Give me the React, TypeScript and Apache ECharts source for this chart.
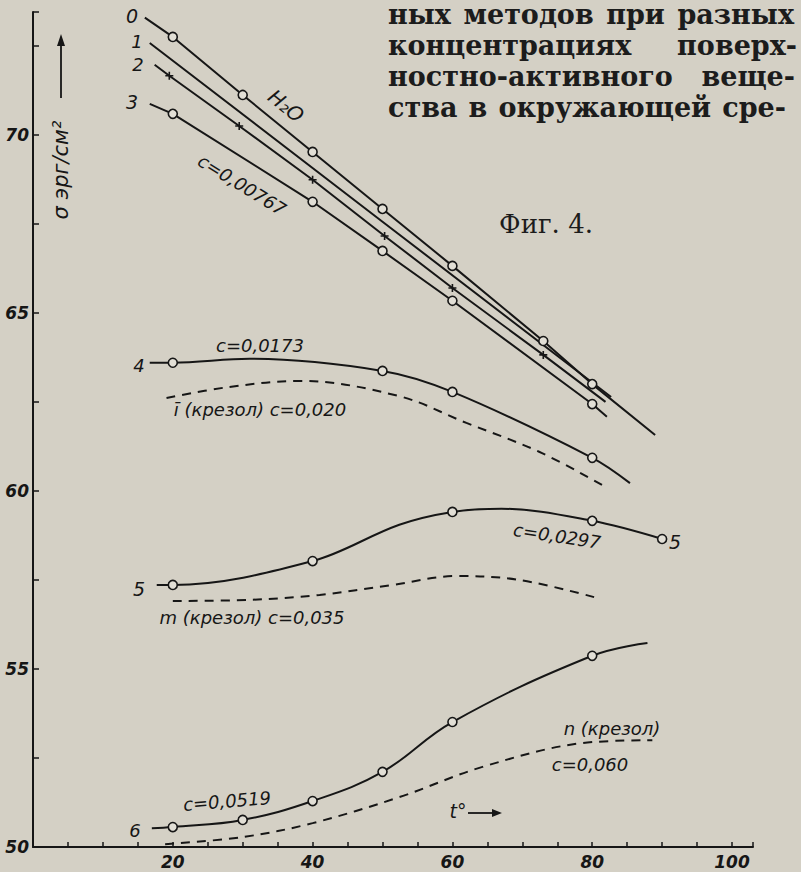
import React, { useEffect, useRef } from 'react';
import * as echarts from 'echarts';

// ---- data (t in °C, sigma in erg/cm^2) ----
const c0T = [16, 20, 30, 40, 50, 60, 73, 80, 89];
const c0S = [73.29, 72.75, 71.12, 69.52, 67.92, 66.32, 64.21, 63.0, 61.57];
const c0M = [0, 1, 1, 1, 1, 1, 1, 1, 0];

const c1T = [16.7, 50, 82.7];
const c1S = [72.58, 67.56, 62.64];
const c1M = [0, 0, 0];

const c2T = [17.4, 19.5, 29.5, 40, 50.3, 60, 73, 81.9];
const c2S = [71.97, 71.66, 70.25, 68.74, 67.16, 65.7, 63.82, 62.5];
const c2M = [0, 1, 1, 1, 1, 1, 1, 0];

const c3T = [16.7, 20, 40, 50, 60, 80, 82.1];
const c3S = [70.87, 70.59, 68.12, 66.74, 65.34, 62.44, 62.08];
const c3M = [0, 1, 1, 1, 1, 1, 0];

const c4T = [16.7, 20, 31, 50, 60, 80, 85.4];
const c4S = [63.6, 63.6, 63.71, 63.37, 62.78, 60.93, 60.22];
const c4M = [0, 1, 0, 1, 1, 1, 0];

const d1T = [19.1, 28.1, 38.1, 52.4, 62, 72.4, 81.4];
const d1S = [62.61, 62.92, 63.09, 62.66, 61.91, 61.1, 60.17];

const c5T = [17.7, 20, 40, 52.4, 60, 67, 80, 90];
const c5S = [57.36, 57.36, 58.03, 59.05, 59.41, 59.5, 59.16, 58.65];
const c5M = [0, 1, 1, 0, 1, 0, 1, 1];

const d2T = [20, 31, 41, 51.4, 60.6, 69.6, 80.6];
const d2S = [56.91, 56.94, 57.08, 57.36, 57.61, 57.5, 57.0];

const c6T = [17, 20, 30, 40, 50, 60, 80, 87.9];
const c6S = [50.53, 50.56, 50.76, 51.29, 52.11, 53.51, 55.37, 55.73];
const c6M = [0, 1, 1, 1, 1, 1, 1, 0];

const d3T = [18.9, 30, 40, 52.4, 64.3, 78.6, 88.6];
const d3S = [50.08, 50.28, 50.67, 51.4, 52.25, 52.92, 53.0];

const yTickLabels = [50, 55, 60, 65, 70];
const xTickLabels = [20, 40, 60, 80, 100];

// running text, justified between x = 388 and the given right edge
const headerLines = [
  { y: 14, right: 794, text: 'ных методов при разных' },
  { y: 45, right: 797, text: 'концентрациях поверх-' },
  { y: 76, right: 795, text: 'ностно-активного веще-' },
  { y: 107, right: 786, text: 'ства в окружающей сре-' },
];
const HEADER_LEFT = 388;
const HEADER_FONT = 'bold 27px "DejaVu Serif"';

const INK = '#161616';
const PAPER = '#d4d0c5';
const MARK_FILL = '#e2dfd6';
const CROSS = 'path://M5,0L5,10M0,5L10,5';

function lineSeries(T: number[], S: number[], M: number[] | null, opts: any) {
  return {
    type: 'line',
    data: T.map((t, i) => ({
      value: [t, S[i]],
      symbol: M && M[i] ? opts.sym || 'circle' : 'none',
    })),
    smooth: opts.smooth ?? false,
    symbolSize: opts.symSize ?? 9,
    showSymbol: true,
    lineStyle: { color: INK, width: opts.width ?? 2, type: opts.dash ? [9, 7] : 'solid' },
    itemStyle: opts.sym === CROSS
      ? { color: 'none', borderColor: INK, borderWidth: 1.6 }
      : { color: MARK_FILL, borderColor: INK, borderWidth: 1.6 },
    z: opts.dash ? 2 : 3,
    silent: true,
  };
}

const ITAL = { fontFamily: 'DejaVu Sans', fontStyle: 'italic', fill: INK };

function txt(text: string, x: number, y: number, size: number, rot = 0, extra: any = {}) {
  return {
    type: 'text',
    x,
    y,
    rotation: rot,
    style: { text, fontSize: size, align: 'center', verticalAlign: 'middle', ...ITAL, ...extra },
    z: 10,
  };
}

function justifiedHeader(): any[] {
  const canvas = document.createElement('canvas');
  const ctx = canvas.getContext('2d');
  const out: any[] = [];
  headerLines.forEach((ln) => {
    const words = ln.text.split(' ');
    let widths = words.map((w) => w.length * 16);
    if (ctx) {
      ctx.font = HEADER_FONT;
      widths = words.map((w) => ctx.measureText(w).width);
    }
    const total = widths.reduce((a, b) => a + b, 0);
    const gap = words.length > 1 ? (ln.right - HEADER_LEFT - total) / (words.length - 1) : 0;
    let x = HEADER_LEFT;
    words.forEach((w, i) => {
      out.push({
        type: 'text',
        x,
        y: ln.y,
        style: {
          text: w,
          fontFamily: 'DejaVu Serif',
          fontSize: 27,
          fontWeight: 'bold',
          fill: '#1c1c1c',
          align: 'left',
          verticalAlign: 'middle',
        },
        z: 10,
      });
      x += widths[i] + gap;
    });
  });
  return out;
}

export default function App() {
  const ref = useRef<HTMLDivElement>(null);
  useEffect(() => {
    if (!ref.current) return;
    const chart = echarts.init(ref.current, null, { renderer: 'svg' });

    const option: any = {
      animation: false,
      backgroundColor: PAPER,
      grid: { left: 33, right: 48, top: 12, bottom: 25, containLabel: false },
      xAxis: {
        type: 'value',
        min: 0,
        max: 103,
        interval: 5,
        axisLine: { show: true, lineStyle: { color: INK, width: 2 } },
        axisTick: { show: true, inside: true, length: 5, lineStyle: { color: INK, width: 1.5 } },
        splitLine: { show: false },
        axisLabel: {
          formatter: (v: number) => (xTickLabels.includes(v) ? String(v) : ''),
          fontFamily: 'DejaVu Sans',
          fontStyle: 'italic',
          fontWeight: 'bold',
          fontSize: 17,
          color: INK,
          margin: 6,
        },
      },
      yAxis: {
        type: 'value',
        min: 50,
        max: 73.45,
        interval: 2.5,
        axisLine: { show: true, lineStyle: { color: INK, width: 2 } },
        axisTick: { show: true, inside: true, length: 6, lineStyle: { color: INK, width: 1.5 } },
        splitLine: { show: false },
        axisLabel: {
          formatter: (v: number) => (yTickLabels.includes(v) ? String(v) : ''),
          fontFamily: 'DejaVu Sans',
          fontStyle: 'italic',
          fontWeight: 'bold',
          fontSize: 17,
          color: INK,
          margin: 4,
        },
      },
      series: [
        lineSeries(c0T, c0S, c0M, {}),
        lineSeries(c1T, c1S, c1M, {}),
        lineSeries(c2T, c2S, c2M, { sym: CROSS, symSize: 8 }),
        lineSeries(c3T, c3S, c3M, {}),
        lineSeries(c4T, c4S, c4M, { smooth: 0.35 }),
        lineSeries(d1T, d1S, null, { smooth: 0.35, dash: true }),
        lineSeries(c5T, c5S, c5M, { smooth: 0.35 }),
        lineSeries(d2T, d2S, null, { smooth: 0.35, dash: true }),
        lineSeries(c6T, c6S, c6M, { smooth: 0.4 }),
        lineSeries(d3T, d3S, null, { smooth: 0.35, dash: true }),
      ],
      graphic: [
        ...justifiedHeader(),
        {
          type: 'text',
          x: 546,
          y: 224,
          style: {
            text: 'Фиг. 4.',
            fontFamily: 'DejaVu Serif',
            fontSize: 26,
            fill: '#1c1c1c',
            align: 'center',
            verticalAlign: 'middle',
          },
          z: 10,
        },
        // y axis title and arrow
        txt('σ эрг/см²', 61, 170, 21, Math.PI / 2),
        { type: 'line', shape: { x1: 61, y1: 98, x2: 61, y2: 42 }, style: { stroke: INK, lineWidth: 1.8 }, z: 10 },
        { type: 'polygon', shape: { points: [[61, 34], [57, 46], [65, 46]] }, style: { fill: INK }, z: 10 },
        // x axis title and arrow
        txt('t°', 458, 811, 19),
        { type: 'line', shape: { x1: 468, y1: 813, x2: 494, y2: 813 }, style: { stroke: INK, lineWidth: 1.8 }, z: 10 },
        { type: 'polygon', shape: { points: [[502, 813], [492, 809], [492, 817]] }, style: { fill: INK }, z: 10 },
        // curve numbers
        txt('0', 132, 16, 19),
        txt('1', 137, 41, 18),
        txt('2', 138, 64, 18),
        txt('3', 132, 102, 19),
        txt('4', 139, 365, 18),
        txt('5', 139, 589, 19),
        txt('5', 675, 542, 19),
        txt('6', 135, 830, 18),
        // annotations
        txt('H₂O', 286, 106, 20, -0.68),
        txt('c=0,00767', 242, 185, 18, -0.55),
        txt('c=0,0173', 260, 345, 18),
        txt('ī (крезол) c=0,020', 260, 409, 18),
        txt('c=0,0297', 557, 536, 18, -0.15),
        txt('m (крезол) c=0,035', 252, 617, 18),
        txt('c=0,0519', 227, 801, 18, 0.08),
        txt('n (крезол)', 612, 728, 18),
        txt('c=0,060', 590, 764, 18),
      ],
    };
    chart.setOption(option);
    return () => chart.dispose();
  }, []);

  return (
    <div
      ref={ref}
      style={{ position: 'absolute', left: 0, top: 0, width: 801, height: 872, background: PAPER }}
    />
  );
}
